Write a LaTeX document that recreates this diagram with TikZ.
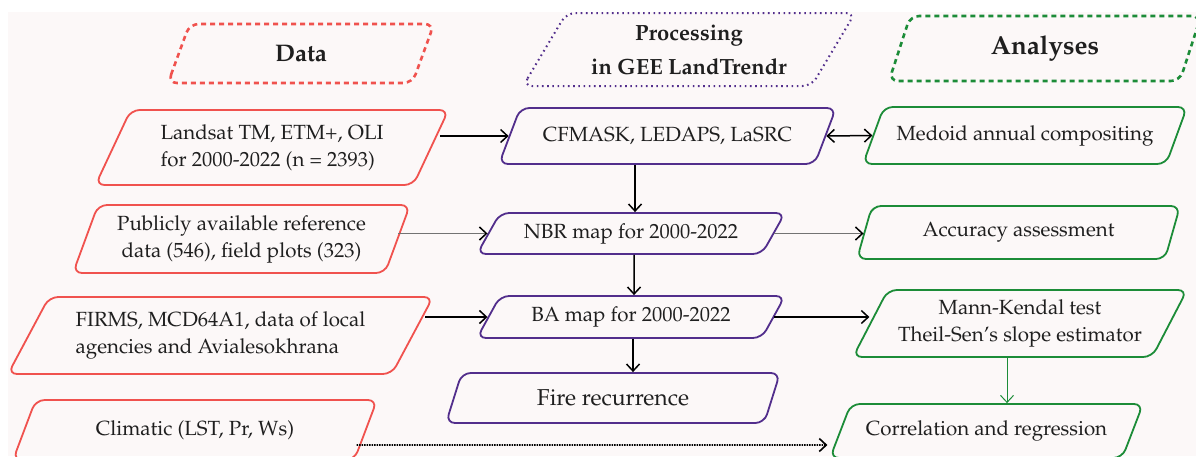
\documentclass[tikz,border=0pt]{standalone}
\usepackage[T1]{fontenc}
\usepackage{mathpazo}
\usetikzlibrary{arrows.meta,shapes.geometric}

\definecolor{datared}{RGB}{240,82,78}
\definecolor{procpurple}{RGB}{82,46,140}
\definecolor{anagreen}{RGB}{28,140,56}
\definecolor{paper}{RGB}{252,248,248}

\tikzset{
  box/.style={trapezium, trapezium stretches body, draw, line width=1.8pt,
    rounded corners=9pt, inner sep=3pt, align=center, text=black!88,
    font=\fontsize{20.5}{27}\selectfont},
  slant/.style={trapezium left angle=#1, trapezium right angle=180-#1},
  head/.style={box, line width=2.6pt, font=\fontsize{22}{34}\selectfont\bfseries},
  arr/.style={-{Straight Barb[length=7pt,width=13pt]}, line width=1.5pt},
  dblarr/.style={{Straight Barb[length=7pt,width=13pt]}-{Straight Barb[length=7pt,width=13pt]}, line width=1.5pt},
  thinarr/.style={-{Straight Barb[length=7pt,width=13pt,line width=1.5pt,color=black]}, line width=0.8pt, black!55},
}

\begin{document}
\begin{tikzpicture}[x=1pt, y=-1pt]
  \useasboundingbox (0,0) rectangle (1196,456);
  \clip (0,0) rectangle (1196,456);
  \fill[white] (0,0) rectangle (1196,456);
  \fill[paper] (8,12) rectangle (1196,456);

  % column headers
  \node[head, draw=datared, dash pattern=on 5pt off 4pt, slant=46,
    minimum width=266pt, minimum height=59pt, font=\fontsize{24}{30}\selectfont\bfseries]
    (data) at (301,53.5) {Data};
  \node[head, draw=procpurple, line width=2pt, dash pattern=on 1.6pt off 3.6pt, slant=52,
    minimum width=332pt, minimum height=73pt] (proc) at (689,49.5) {Processing\\in GEE LandTrendr};
  \node[head, draw=anagreen, dash pattern=on 5pt off 4pt, slant=56,
    minimum width=312pt, minimum height=65pt, font=\fontsize{26}{30}\selectfont\bfseries]
    (ana) at (1045,48.5) {Analyses};

  % data
  \node[box, draw=datared, slant=56, minimum width=353pt, minimum height=75pt, align=left]
    (landsat) at (272,147.5) {Landsat TM, ETM+, OLI\\for 2000-2022 (n = 2393)};
  \node[box, draw=datared, slant=65, minimum width=337pt, minimum height=68pt]
    (refdata) at (241.5,239) {Publicly available reference\\data (546), field plots (323)};
  \node[box, draw=datared, slant=52.5, minimum width=425pt, minimum height=77pt, align=left]
    (firms) at (220.5,335.5) {FIRMS, MCD64A1, data of local\\agencies and Avialesokhrana};
  \node[box, draw=datared, slant=48, minimum width=364pt, minimum height=60pt]
    (climate) at (195,430) {Climatic (LST, Pr, Ws)};

  % processing
  \node[box, draw=procpurple, slant=48, minimum width=337pt, minimum height=56pt]
    (masks) at (667.5,136) {CFMASK, LEDAPS, LaSRC};
  \node[box, draw=procpurple, slant=49, minimum width=308pt, minimum height=41pt]
    (nbr) at (631,233.5) {NBR map for 2000-2022};
  \node[box, draw=procpurple, slant=49, minimum width=308pt, minimum height=42pt]
    (ba) at (631,317) {BA map for 2000-2022};
  \node[box, draw=procpurple, slant=55, minimum width=334pt, minimum height=50pt,
    font=\fontsize{23}{28}\selectfont] (recur) at (613,398) {Fire recurrence};

  % analyses
  \node[box, draw=anagreen, slant=52, minimum width=324pt, minimum height=57pt]
    (medoid) at (1025,135.5) {Medoid annual compositing};
  \node[box, draw=anagreen, slant=60, minimum width=323pt, minimum height=53pt]
    (accur) at (1018.5,232.5) {Accuracy assessment};
  \node[box, draw=anagreen, slant=57, minimum width=334pt, minimum height=67pt]
    (trend) at (1020,323.5) {Mann-Kendal test\\Theil-Sen's slope estimator};
  \node[box, draw=anagreen, slant=52, minimum width=313pt, minimum height=54pt]
    (corr) at (986.5,431) {Correlation and regression};

  % connectors
  \draw[arr] ([xshift=8pt]landsat.east |- masks.west) -- (masks.west);
  \draw[dblarr] (masks.east) -- (medoid.west);
  \draw[thinarr] (refdata.east |- nbr.west) -- (nbr.west);
  \draw[thinarr] (nbr.east) -- (accur.west |- nbr.east);
  \draw[arr] ([xshift=12pt]firms.east |- ba.west) -- (ba.west);
  \draw[arr] (ba.east) -- (trend.west |- ba.east);
  \draw[arr, densely dotted, line width=1.6pt] ([xshift=-10pt,yshift=-15pt]climate.east)
    -- ([xshift=-12pt,yshift=-14pt]corr.west);
  \draw[arr] ([xshift=4pt]nbr.north |- masks.south) -- ([xshift=4pt]nbr.north);
  \draw[arr] ([xshift=3pt]nbr.south) -- ([xshift=3pt]ba.north);
  \draw[arr] ([xshift=2pt]ba.south) -- ([xshift=2pt]ba.south |- recur.north);
  \draw[arr, anagreen, line width=1pt] ([xshift=-13pt]trend.south)
    -- ([xshift=-13pt]trend.south |- corr.north);
\end{tikzpicture}
\end{document}
